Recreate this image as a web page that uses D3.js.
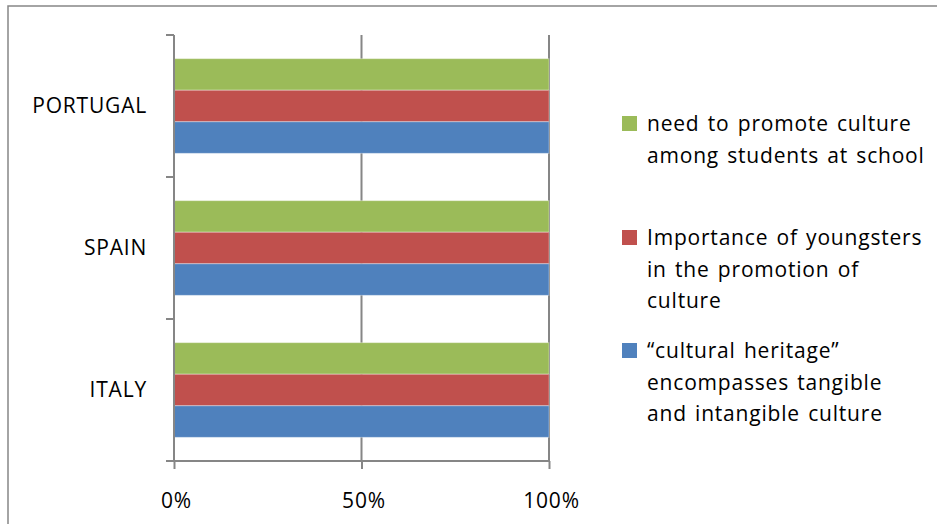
<!DOCTYPE html>
<html>
<head>
<meta charset="utf-8">
<script src="https://cdn.jsdelivr.net/npm/d3@7/dist/d3.min.js"></script>
<style>
  html, body { margin: 0; padding: 0; background: #fff; }
  svg { display: block; }
  text { font-family: "Open Sans", "Noto Sans", sans-serif; fill: #000; letter-spacing: 0.8px; word-spacing: 2px; }
</style>
</head>
<body>
<svg id="chart" width="937" height="524"></svg>
<script>
// ---- data ----
const categories = ["PORTUGAL", "SPAIN", "ITALY"];
const seriesNames = [
  "need to promote culture among students at school",
  "Importance of youngsters in the promotion of culture",
  "\u201Ccultural heritage\u201D encompasses tangible and intangible culture"
];
const legendLines = [
  ["need to promote culture", "among students at school"],
  ["Importance of youngsters", "in the promotion of", "culture"],
  ["\u201Ccultural heritage\u201D", "encompasses tangible", "and intangible culture"]
];
const seriesColors = ["#9BBB59", "#C0504D", "#4F81BD"];
// values (share, %) for each series, in category order
const valuesGreen = [100, 100, 100];
const valuesRed = [100, 100, 100];
const valuesBlue = [100, 100, 100];
const seriesValues = [valuesGreen, valuesRed, valuesBlue];
const xTicks = [0, 50, 100];

// ---- layout ----
const svg = d3.select("#chart");
const plot = { left: 174, right: 549, top: 35, bottom: 461 };
const axisColor = "#868686";
const fontSize = 21;

// outer border
svg.append("rect")
  .attr("x", 8).attr("y", 6)
  .attr("width", 960).attr("height", 560)
  .attr("fill", "#fff")
  .attr("stroke", axisColor).attr("stroke-width", 1.5);

const x = d3.scaleLinear().domain([0, 100]).range([plot.left, plot.right]);
const y = d3.scaleBand().domain(categories).range([plot.top, plot.bottom]).padding(0);
const ySub = d3.scaleBand().domain(d3.range(seriesNames.length))
  .range([0, y.bandwidth()]).paddingInner(0).paddingOuter(0.75);

// gridlines (vertical)
svg.append("g").selectAll("line")
  .data(xTicks.filter(t => t > 0))
  .join("line")
  .attr("x1", d => x(d)).attr("x2", d => x(d))
  .attr("y1", plot.top).attr("y2", plot.bottom)
  .attr("stroke", axisColor).attr("stroke-width", 2);

// bars
const rows = [];
categories.forEach((c, ci) => {
  seriesValues.forEach((vals, si) => {
    rows.push({ cat: c, si, v: vals[ci] });
  });
});
svg.append("g").selectAll("rect")
  .data(rows)
  .join("rect")
  .attr("x", x(0))
  .attr("y", d => y(d.cat) + ySub(d.si))
  .attr("width", d => x(d.v) - x(0))
  .attr("height", ySub.bandwidth())
  .attr("fill", d => seriesColors[d.si])
  .attr("stroke", "#ffffff").attr("stroke-opacity", 0.35).attr("stroke-width", 1);

// x axis
const xAxis = d3.axisBottom(x).tickValues(xTicks).tickFormat(d => d + "%")
  .tickSize(8).tickSizeOuter(0).tickPadding(24);
const gx = svg.append("g").attr("transform", `translate(0,${plot.bottom})`).call(xAxis);
gx.select(".domain").remove();
gx.selectAll(".tick line").attr("stroke", axisColor).attr("stroke-width", 2);
gx.selectAll(".tick text").attr("font-size", fontSize).attr("fill", "#000")
  .attr("dx", 2)
  .attr("font-family", "'Open Sans', sans-serif");
gx.append("line")
  .attr("x1", plot.left - 8).attr("x2", plot.right)
  .attr("y1", 0).attr("y2", 0)
  .attr("stroke", axisColor).attr("stroke-width", 2);

// y axis line + category boundary ticks
svg.append("line")
  .attr("x1", plot.left).attr("x2", plot.left)
  .attr("y1", plot.top).attr("y2", plot.bottom)
  .attr("stroke", axisColor).attr("stroke-width", 2);
const boundaries = categories.map(c => y(c)).concat([plot.bottom]);
svg.append("g").selectAll("line")
  .data(boundaries)
  .join("line")
  .attr("x1", plot.left - 8).attr("x2", plot.left)
  .attr("y1", d => d).attr("y2", d => d)
  .attr("stroke", axisColor).attr("stroke-width", 2);

// category labels
svg.append("g").selectAll("text")
  .data(categories)
  .join("text")
  .attr("x", 147)
  .attr("y", d => y(d) + y.bandwidth() / 2)
  .attr("dy", "0.35em")
  .attr("text-anchor", "end")
  .attr("font-size", fontSize)
  .text(d => d);

// legend
const legendX = 622;
const legendFirstBaselines = [131, 245, 358];
const lineH = 31.5;
const lg = svg.append("g");
legendLines.forEach((lines, i) => {
  const by = legendFirstBaselines[i];
  lg.append("rect")
    .attr("x", legendX).attr("y", by - 15)
    .attr("width", 15).attr("height", 15)
    .attr("fill", seriesColors[i]);
  const t = lg.append("text")
    .attr("x", legendX + 25).attr("y", by)
    .attr("font-size", fontSize);
  lines.forEach((ln, k) => {
    t.append("tspan")
      .attr("x", legendX + 25)
      .attr("y", by + k * lineH)
      .text(ln);
  });
});
</script>
</body>
</html>
